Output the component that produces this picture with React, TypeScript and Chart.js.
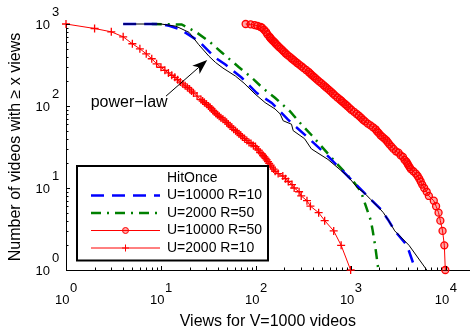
import { useEffect, useRef } from 'react';
import { Chart, registerables } from 'chart.js';

Chart.register(...registerables);

// ---- data (views, number of videos with >= x views) ----
const hitOnceX = [4, 10, 14.4, 19.8, 25, 32, 37.5, 45, 60.8, 75, 98, 125, 159, 180, 194, 237, 247, 325, 384, 574, 929, 1180, 1387, 1625, 1910, 2200, 2500, 2900, 4100, 6300];
const hitOnceY = [1000, 1000, 940, 790, 560, 405, 340, 290, 232, 190, 140, 110, 92, 80, 66, 60, 50, 40, 30, 22.3, 13.9, 10, 8.7, 7.2, 6, 5, 4, 3, 2, 1];

const u10kR10X = [4, 10, 12.2, 16.1, 25, 37.5, 47.7, 71, 101.6, 147, 218, 247, 355, 574, 857, 1387, 2070, 2500, 2900, 3900, 4800];
const u10kR10Y = [1000, 1000, 950, 857, 617, 387, 321, 221, 145, 109, 68.4, 59.5, 41, 24.4, 15.3, 8.7, 5.5, 4, 3, 2, 1];

const u2kR50X = [8, 16.5, 23.2, 32, 44, 65.8, 90.6, 117, 158.6, 228, 302, 389, 674, 1090, 1280, 1440, 1625, 1700, 1800, 1950];
const u2kR50Y = [1000, 986, 803, 617, 446, 299, 221, 167, 126, 86.4, 59.5, 43.7, 21.2, 11.6, 9, 6, 4, 3, 2, 1];

const u10kR50X = [78, 88, 97, 104, 112, 116, 122, 128, 132, 139, 142, 146, 151, 157, 162, 168, 175, 183, 190, 197, 205, 214, 226, 238, 248, 259, 272, 286, 302, 318, 338, 359, 372, 386, 403, 420, 440, 462, 488, 515, 537, 560, 588, 617, 647, 679, 721, 766, 799, 833, 874, 917, 962, 1010, 1078, 1150, 1213, 1280, 1343, 1410, 1507, 1610, 1712, 1820, 1889, 1960, 2053, 2150, 2257, 2370, 2458, 2550, 2677, 2810, 2985, 3170, 3345, 3530, 3682, 3840, 3934, 4030, 4153, 4280, 4547, 4830, 5050, 5250, 5440, 5640, 5920, 6290, 6630, 7470, 7900, 8390, 8760, 9240, 9650, 9880];
const u10kR50Y = [1000, 990, 970, 950, 920, 900, 850, 800, 750, 700, 675, 650, 625, 600, 575, 550, 525, 500, 480, 460, 440, 420, 400, 380, 365, 350, 335, 320, 305, 290, 275, 260, 250, 240, 230, 220, 210, 200, 190, 180, 172, 165, 157, 150, 142, 135, 127, 120, 115, 110, 105, 100, 95, 90, 85, 80, 76, 72, 68, 65, 61, 58, 55, 52, 49, 47, 44, 42, 40, 38, 36, 34, 32, 30, 28, 27, 25, 24, 22, 21, 20, 19, 18, 17, 16, 15, 14, 13, 12, 11, 10, 9, 8, 7, 6, 5, 4, 3, 2, 1];

const u2kR10X = [1, 2, 3, 4, 5, 6, 7, 8, 9, 10, 11, 12, 13, 14, 15, 16, 17, 18, 19, 20, 21, 22, 24, 26.4, 27.5, 28.7, 30.2, 31.7, 33, 34.2, 35.4, 36.6, 38, 39.4, 41, 42.7, 45, 47.3, 49.3, 51.3, 53.5, 55.7, 58.3, 61.1, 63.6, 66.3, 69.2, 72.1, 76, 80.2, 84.5, 88.9, 94, 99, 102.7, 106.5, 111, 115.8, 119, 122.7, 126.3, 130, 134, 138, 142.8, 147.6, 153.5, 159.6, 171.5, 192, 205, 219, 240, 253, 285, 300, 345, 375, 458, 530, 660, 790, 995];
const u2kR10Y = [1000, 881, 803, 698, 574, 498, 433, 377, 327, 297, 272, 253, 237, 224, 209, 196, 186, 176, 168, 161, 152, 144, 132, 120, 115, 110, 105, 100, 96, 92, 88, 85, 81, 78, 75, 72, 69, 66, 63, 60, 57, 55, 52, 50, 48, 46, 44, 42, 40, 38, 36, 35, 33, 32, 30, 29, 27, 26, 25, 24, 23, 22, 21, 20, 19, 18, 17, 16, 15, 14, 13, 12, 11, 10, 9, 8, 7, 6, 5, 4, 3, 2, 1];

const seriesLabels = ['U=10000 R=10', 'U=2000 R=50', 'U=10000 R=50', 'U=2000 R=10'];
const legendTitle = 'HitOnce';
const xTickExponents = [0, 1, 2, 3, 4];
const yTickExponents = [0, 1, 2, 3];
const xAxisTitle = 'Views for V=1000 videos';
const yAxisTitle = 'Number of videos with \u2265 x views';
const annotationText = 'power\u2212law';
const annotationTextAt = { x: 1.82, y: 110 };
const arrowTail = { x: 11.3, y: 132 };
const arrowTip = { x: 30.7, y: 364 };

const xMin = 1;
const xMax = 17850;
const yMin = 1;
const yMax = 1000;

const FONT = '"Liberation Sans", Arial, Helvetica, sans-serif';

const pts = (xs: number[], ys: number[]) => xs.map((x, i) => ({ x, y: ys[i] }));

const decorPlugin = {
  id: 'decor',
  afterDraw(chart: any) {
    const ctx: CanvasRenderingContext2D = chart.ctx;
    const xs = chart.scales.x;
    const ys = chart.scales.y;
    const a = chart.chartArea;
    ctx.save();
    ctx.strokeStyle = '#000';
    ctx.fillStyle = '#000';
    ctx.lineWidth = 1;
    // inward ticks
    for (let e = 0; e <= 5; e++) {
      for (let m = 1; m <= 9; m++) {
        const v = m * Math.pow(10, e);
        if (v > xs.max) break;
        const px = Math.round(xs.getPixelForValue(v)) + 0.5;
        const len = m === 1 ? 4 : 2.5;
        ctx.beginPath();
        ctx.moveTo(px, a.bottom);
        ctx.lineTo(px, a.bottom - len);
        ctx.stroke();
      }
    }
    for (let e = 0; e <= 3; e++) {
      for (let m = 1; m <= 9; m++) {
        const v = m * Math.pow(10, e);
        if (v > ys.max) break;
        const py = Math.round(ys.getPixelForValue(v)) + 0.5;
        const len = m === 1 ? 4 : 2.5;
        ctx.beginPath();
        ctx.moveTo(a.left, py);
        ctx.lineTo(a.left + len, py);
        ctx.stroke();
      }
    }
    // tick labels
    ctx.font = '13px ' + FONT;
    ctx.textBaseline = 'middle';
    xTickExponents.forEach((e) => {
      const px = xs.getPixelForValue(Math.pow(10, e));
      ctx.textAlign = 'right';
      ctx.fillText('10', px + 3.5, 300);
      ctx.textAlign = 'left';
      ctx.fillText(String(e), px + 4, 288);
    });
    yTickExponents.forEach((e) => {
      const py = ys.getPixelForValue(Math.pow(10, e));
      ctx.textAlign = 'right';
      ctx.fillText('10', a.left - 16, py + 1);
      ctx.textAlign = 'left';
      ctx.fillText(String(e), a.left - 14, py - 12);
    });
    // axis titles
    ctx.font = '16px ' + FONT;
    ctx.textAlign = 'center';
    ctx.fillText(xAxisTitle, (a.left + a.right) / 2, 322);
    ctx.save();
    ctx.translate(16, (a.top + a.bottom) / 2);
    ctx.rotate(-Math.PI / 2);
    ctx.fillText(yAxisTitle, 0, 0);
    ctx.restore();

    // annotation
    ctx.textAlign = 'left';
    ctx.fillText(annotationText, xs.getPixelForValue(annotationTextAt.x), ys.getPixelForValue(annotationTextAt.y));
    const tx = xs.getPixelForValue(arrowTail.x);
    const ty = ys.getPixelForValue(arrowTail.y);
    const hx = xs.getPixelForValue(arrowTip.x);
    const hy = ys.getPixelForValue(arrowTip.y);
    const dx = hx - tx;
    const dy = hy - ty;
    const L = Math.hypot(dx, dy);
    const ux = dx / L;
    const uy = dy / L;
    const headLen = 15;
    const headW = 5.5;
    const notch = 4;
    ctx.beginPath();
    ctx.moveTo(tx, ty);
    ctx.lineTo(hx - ux * (headLen - notch), hy - uy * (headLen - notch));
    ctx.stroke();
    ctx.beginPath();
    ctx.moveTo(hx, hy);
    ctx.lineTo(hx - ux * headLen - uy * headW, hy - uy * headLen + ux * headW);
    ctx.lineTo(hx - ux * (headLen - notch), hy - uy * (headLen - notch));
    ctx.lineTo(hx - ux * headLen + uy * headW, hy - uy * headLen - ux * headW);
    ctx.closePath();
    ctx.fill();

    // legend
    const bx = 77, by = 166, bw = 191, bh = 94.5;
    ctx.fillStyle = '#fff';
    ctx.fillRect(bx, by, bw, bh);
    ctx.lineWidth = 2;
    ctx.strokeStyle = '#000';
    ctx.strokeRect(bx, by, bw, bh);
    ctx.fillStyle = '#000';
    ctx.font = '14px ' + FONT;
    ctx.textAlign = 'left';
    const rowY = (i: number) => 178 + i * 17.5;
    ctx.fillText(legendTitle, 167, rowY(0));
    const ds = chart.data.datasets;
    for (let i = 1; i <= 4; i++) {
      const d = ds[i];
      const y = rowY(i);
      ctx.save();
      ctx.strokeStyle = d.borderColor;
      ctx.lineWidth = d.borderWidth;
      ctx.setLineDash(d.borderDash || []);
      ctx.beginPath();
      ctx.moveTo(91, y);
      ctx.lineTo(160, y);
      ctx.stroke();
      ctx.setLineDash([]);
      ctx.lineWidth = 1;
      if (d.pointStyle === 'circle') {
        ctx.fillStyle = d.pointBackgroundColor;
        ctx.beginPath();
        ctx.arc(125.5, y, 3, 0, Math.PI * 2);
        ctx.fill();
        ctx.stroke();
      } else if (d.pointStyle === 'cross') {
        const r = 3.5;
        ctx.beginPath();
        ctx.moveTo(125.5 - r, y);
        ctx.lineTo(125.5 + r, y);
        ctx.moveTo(125.5, y - r);
        ctx.lineTo(125.5, y + r);
        ctx.stroke();
      }
      ctx.restore();
      ctx.fillStyle = '#000';
      ctx.fillText(seriesLabels[i - 1], 167, y);
    }
    ctx.restore();
  },
};

export default function App() {
  const ref = useRef<HTMLCanvasElement | null>(null);
  useEffect(() => {
    if (!ref.current) return;
    const chart = new Chart(ref.current, {
      type: 'scatter',
      data: {
        datasets: [
          {
            label: legendTitle,
            data: pts(hitOnceX, hitOnceY),
            showLine: true,
            borderColor: '#000000',
            borderWidth: 1,
            pointRadius: 0,
            tension: 0,
            clip: false,
          },
          {
            label: seriesLabels[0],
            data: pts(u10kR10X, u10kR10Y),
            showLine: true,
            borderColor: '#0000ff',
            borderWidth: 2.5,
            borderDash: [13, 8],
            pointRadius: 0,
            tension: 0,
            clip: false,
          },
          {
            label: seriesLabels[1],
            data: pts(u2kR50X, u2kR50Y),
            showLine: true,
            borderColor: '#008000',
            borderWidth: 2.5,
            borderDash: [10, 6, 2, 6],
            pointRadius: 0,
            tension: 0,
            clip: false,
          },
          {
            label: seriesLabels[2],
            data: pts(u10kR50X, u10kR50Y),
            showLine: true,
            borderColor: '#ff0000',
            borderWidth: 1,
            pointStyle: 'circle',
            pointRadius: 3.5,
            pointBorderWidth: 1.3,
            pointBorderColor: '#ff0000',
            pointBackgroundColor: 'rgba(255,0,0,0.35)',
            tension: 0,
            clip: false,
          },
          {
            label: seriesLabels[3],
            data: pts(u2kR10X, u2kR10Y),
            showLine: true,
            borderColor: '#ff0000',
            borderWidth: 1,
            pointStyle: 'cross',
            pointRadius: 4,
            pointBorderWidth: 1.3,
            pointBorderColor: '#ff0000',
            tension: 0,
            clip: false,
          },
        ] as any,
      },
      options: {
        animation: false,
        responsive: false,
        maintainAspectRatio: false,
        devicePixelRatio: 1,
        layout: { padding: { top: 24, left: 0, right: 0, bottom: 0 } },
        plugins: {
          legend: { display: false },
          tooltip: { enabled: false },
          title: { display: false },
        },
        scales: {
          x: {
            type: 'logarithmic',
            min: xMin,
            max: xMax,
            grid: { display: false },
            ticks: { display: false },
            border: { display: true, color: '#000', width: 1 },
            afterFit: (s: any) => {
              s.height = 63;
            },
          },
          y: {
            type: 'logarithmic',
            min: yMin,
            max: yMax,
            grid: { display: false },
            ticks: { display: false },
            border: { display: true, color: '#000', width: 1 },
            afterFit: (s: any) => {
              s.width = 66;
            },
          },
        },
      } as any,
      plugins: [decorPlugin],
    });
    return () => chart.destroy();
  }, []);
  return (
    <div style={{ position: 'fixed', left: 0, top: 0, width: 475, height: 333, background: '#fff' }}>
      <canvas ref={ref} width={475} height={333} style={{ width: 475, height: 333, display: 'block' }} />
    </div>
  );
}
